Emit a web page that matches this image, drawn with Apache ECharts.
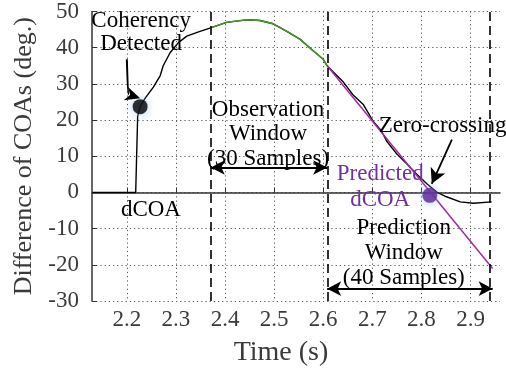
<!DOCTYPE html>
<html><head><meta charset="utf-8">
<script src="https://cdn.jsdelivr.net/npm/echarts@6/dist/echarts.min.js"></script>
<style>html,body{margin:0;padding:0;background:#fff}#c{width:506px;height:372px}</style>
</head><body><div id="c"></div>
<script>
// ---- data ----
const xTicks = [2.2, 2.3, 2.4, 2.5, 2.6, 2.7, 2.8, 2.9];
const yTicks = [-30, -20, -10, 0, 10, 20, 30, 40, 50];
const dcoaTime  = [2.13, 2.218, 2.222, 2.227, 2.237, 2.254, 2.268, 2.274, 2.288, 2.305, 2.322, 2.349, 2.369,
                   2.403, 2.444, 2.471, 2.498, 2.526, 2.553, 2.580, 2.600, 2.608,
                   2.621, 2.641, 2.661, 2.682, 2.702, 2.719, 2.729, 2.750, 2.770, 2.790, 2.811, 2.831, 2.851, 2.879, 2.906, 2.943];
const dcoaValue = [0, 0, 21.0, 23.7, 26.0, 29.1, 32.3, 35.0, 38.6, 41.4, 43.2, 44.5, 45.4,
                   47.0, 47.7, 47.5, 46.6, 44.5, 42.3, 39.1, 36.8, 35.0,
                   33.2, 30.5, 26.9, 24.2, 19.6, 16.9, 14.2, 10.6, 7.9, 5.1, 2.4, 0.1, -1.2, -2.6, -3.0, -2.6];
const obsTime  = [2.369, 2.403, 2.444, 2.471, 2.498, 2.526, 2.553, 2.580, 2.600, 2.608];
const obsValue = [45.4, 47.0, 47.7, 47.5, 46.6, 44.5, 42.3, 39.1, 36.8, 35.0];
const predTime  = [2.608, 2.945];
const predValue = [35.0, -21.0];
const coherencyPoint = [2.227, 23.7];
const predictedPoint = [2.817, -0.8];
const windowBounds = [2.371, 2.608, 2.945];
const obsArrowY = 6.9;
const predArrowY = -26.6;
const zeroArrow = [[2.862, 14.6], [2.821, 2.4]];
const coherencyArrow = [[2.2, 36.8], [2.227, 26.0]];

const pair = (t, v) => t.map((x, i) => [x, v[i]]);
const serif = '"Liberation Serif","Times New Roman",serif';
const tickColor = '#3a3a3a';

const chart = echarts.init(document.getElementById('c'), null, {renderer: 'canvas'});
const gridStyle = {show: true, lineStyle: {type: [1.2, 3], color: '#555', width: 1}};

chart.setOption({
  animation: false,
  backgroundColor: '#fff',
  grid: {left: 92, right: 6, top: 11.5, bottom: 66, containLabel: false},
  xAxis: {
    type: 'value', min: 2.129, max: 2.96,
    name: 'Time (s)', nameLocation: 'middle', nameGap: 38,
    nameTextStyle: {fontFamily: serif, fontSize: 28, color: tickColor, padding: [0, 30, 0, 0]},
    axisLine: {show: true, lineStyle: {color: '#333', width: 1.5}},
    axisTick: {show: true, inside: true, length: 5, customValues: xTicks, lineStyle: {color: '#333'}},
    axisLabel: {customValues: xTicks, margin: 7, fontFamily: serif, fontSize: 23, color: tickColor,
                formatter: v => v.toFixed(1)},
    splitLine: gridStyle
  },
  yAxis: {
    type: 'value', min: -30, max: 50, interval: 10,
    name: 'Difference of COAs (deg.)', nameLocation: 'middle', nameGap: 54,
    nameTextStyle: {fontFamily: serif, fontSize: 26, color: tickColor},
    axisLine: {show: true, lineStyle: {color: '#333', width: 1.5}},
    axisTick: {show: true, inside: true, length: 5, lineStyle: {color: '#333'}},
    axisLabel: {margin: 13, fontFamily: serif, fontSize: 23, color: tickColor},
    splitLine: gridStyle
  },
  series: [
    {
      type: 'line', data: pair(dcoaTime, dcoaValue), showSymbol: false, symbol: 'none',
      lineStyle: {color: '#000', width: 1.4}, z: 3,
      markLine: {
        silent: true, animation: false, label: {show: false},
        symbol: ['none', 'none'],
        data: windowBounds.map(b => ({xAxis: b})),
        lineStyle: {type: [9, 5], color: '#000', width: 1.6}
      }
    },
    {
      type: 'line', data: pair(obsTime, obsValue), showSymbol: false, symbol: 'none',
      lineStyle: {color: '#4C9A2A', width: 1.5}, z: 4,
      markLine: {
        silent: true, animation: false, label: {show: false},
        symbol: ['arrow', 'arrow'], symbolSize: [11, 14],
        lineStyle: {type: 'solid', color: '#000', width: 1.8},
        itemStyle: {color: '#000'},
        data: [
          [{coord: [windowBounds[0], obsArrowY]}, {coord: [windowBounds[1], obsArrowY]}],
          [{coord: [windowBounds[1], predArrowY]}, {coord: [windowBounds[2], predArrowY]}]
        ]
      }
    },
    {
      type: 'line', data: pair(predTime, predValue), showSymbol: false, symbol: 'none',
      lineStyle: {color: '#A02CA0', width: 1.5}, z: 4,
      markLine: {
        silent: true, animation: false, label: {show: false},
        symbol: ['none', 'arrow'], symbolSize: [12, 15],
        lineStyle: {type: 'solid', color: '#000', width: 1.8},
        itemStyle: {color: '#000'},
        data: [[{coord: zeroArrow[0]}, {coord: zeroArrow[1]}]]
      }
    },
    {
      type: 'scatter', data: [coherencyPoint], symbolSize: 15, z: 6,
      itemStyle: {color: '#000', shadowBlur: 8, shadowColor: 'rgba(140,185,230,0.9)'}
    },
    {
      type: 'scatter', data: [predictedPoint], symbolSize: 15, z: 6,
      itemStyle: {color: '#5E2496', shadowBlur: 8, shadowColor: 'rgba(140,185,230,0.9)'}
    }
  ]
});

// ---- annotations (anchored in data coordinates) ----
const px = p => chart.convertToPixel({gridIndex: 0}, p);
const annotations = [
  {text: 'Coherency\nDetected', at: [2.229, 44.3], color: '#000', lh: 23},
  {text: 'Observation\nWindow\n(30 Samples)', at: [2.4876, 16.1], color: '#000', lh: 24.5},
  {text: 'Zero-crossing', at: [2.843, 18.3], color: '#000', lh: 23},
  {text: 'Predicted\ndCOA', at: [2.716, 1.5], color: '#7030A0', lh: 26},
  {text: 'Prediction\nWindow\n(40 Samples)', at: [2.764, -16.6], color: '#000', lh: 25},
  {text: 'dCOA', at: [2.249, -4.8], color: '#000', lh: 23}
];
const graphics = annotations.map(a => {
  const p = px(a.at);
  return {type: 'text', x: p[0], y: p[1], z: 10,
    style: {text: a.text, fill: a.color, font: '23px ' + serif, align: 'center',
            verticalAlign: 'middle', lineHeight: a.lh}};
});
// curved arrow for "Coherency Detected"
const s = px(coherencyArrow[0]), e = px(coherencyArrow[1]);
const cp = [s[0] + 1, e[1] - 4];
let dx = e[0] - cp[0], dy = e[1] - cp[1];
const len = Math.hypot(dx, dy); dx /= len; dy /= len;
const headL = 15, headW = 7;
const base = [e[0] - dx * headL, e[1] - dy * headL];
graphics.push({type: 'bezierCurve', z: 9,
  shape: {x1: s[0], y1: s[1], x2: base[0] + dx * 3, y2: base[1] + dy * 3, cpx1: cp[0], cpy1: cp[1]},
  style: {stroke: '#000', lineWidth: 2, fill: null}});
graphics.push({type: 'polygon', z: 9,
  shape: {points: [e, [base[0] - dy * headW, base[1] + dx * headW],
                   [e[0] - dx * headL * 0.7, e[1] - dy * headL * 0.7],
                   [base[0] + dy * headW, base[1] - dx * headW]]},
  style: {fill: '#000'}});
chart.setOption({graphic: graphics});
</script>
</body></html>
